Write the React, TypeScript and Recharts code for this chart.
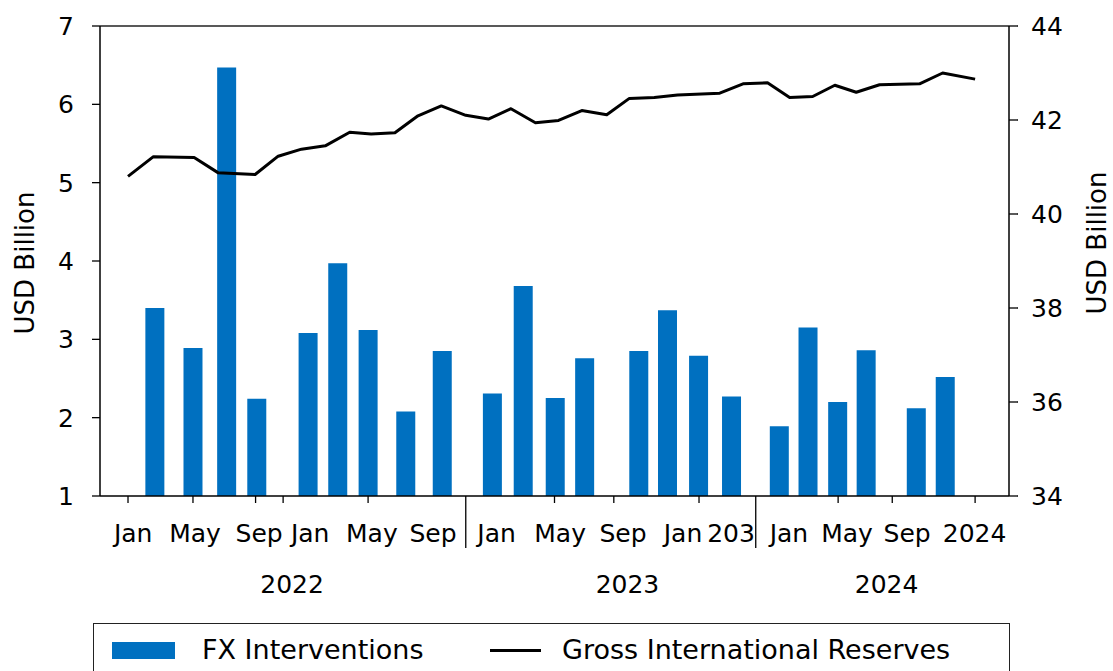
import { ComposedChart, Bar, Line, XAxis, YAxis, ReferenceLine, Label } from 'recharts';

// x positions are in months counted from Jan 2022
const barMonths = [1.13, 2.75, 4.18, 5.46, 7.64, 8.9, 10.19, 11.79, 13.34, 15.47, 16.78, 18.14, 19.39, 21.69, 22.91, 24.23, 25.63, 27.66, 28.88, 30.14, 31.35, 33.48, 34.71];
const fxInterventions = [3.4, 2.89, 6.47, 2.24, 3.08, 3.97, 3.12, 2.08, 2.85, 2.31, 3.68, 2.25, 2.76, 2.85, 3.37, 2.79, 2.27, 1.89, 3.15, 2.2, 2.86, 2.12, 2.52];

const lineMonths = [0, 1.08, 2.81, 3.82, 5.4, 6.38, 7.37, 8.38, 9.42, 10.33, 11.34, 12.32, 13.31, 14.35, 15.31, 16.27, 17.31, 18.29, 19.28, 20.34, 21.3, 22.36, 23.35, 25.14, 26.13, 27.17, 28.11, 29.09, 30.03, 30.94, 31.93, 33.63, 34.61, 35.99];
const grossReserves = [40.8, 41.22, 41.2, 40.88, 40.84, 41.23, 41.38, 41.45, 41.74, 41.7, 41.73, 42.09, 42.3, 42.1, 42.02, 42.24, 41.94, 41.99, 42.2, 42.11, 42.46, 42.48, 42.53, 42.57, 42.77, 42.79, 42.48, 42.5, 42.74, 42.59, 42.75, 42.77, 43.0, 42.87];

const tickMonths = [0, 2.76, 5.42, 6.59, 10.2, 18.12, 20.64, 24.26, 30.17, 32.47, 35.99];
const separatorMonths = [14.35, 26.67];
const labelMonths = [0.22, 2.85, 5.57, 7.74, 10.36, 12.96, 15.66, 18.36, 21.03, 23.58, 25.62, 28.08, 30.55, 33.1, 35.97];
const labelTexts = ['Jan', 'May', 'Sep', 'Jan', 'May', 'Sep', 'Jan', 'May', 'Sep', 'Jan', '203', 'Jan', 'May', 'Sep', '2024'];
const yearMonths = [6.97, 21.22, 32.23];
const yearTexts = ['2022', '2023', '2024'];

const leftTicks = [1, 2, 3, 4, 5, 6, 7];
const rightTicks = [34, 36, 38, 40, 42, 44];

const barData = barMonths.map((t, i) => ({ t, fx: fxInterventions[i] }));
const lineData = lineMonths.map((t, i) => ({ t, gir: grossReserves[i] }));

const xDomain = [-1.19, 37.43];
const font = 'DejaVu Sans';
const blue = '#0070C0';

const MarkTick = (props: any) => {
  const { x, y, payload } = props;
  const len = separatorMonths.includes(payload.value) ? 52 : 7;
  return <line x1={x} x2={x} y1={y} y2={y + len} stroke="#000" strokeWidth={1.3} />;
};

const MonthTick = (props: any) => {
  const { x, y, payload } = props;
  const i = labelMonths.indexOf(payload.value);
  return (
    <text x={x} y={y + 38} textAnchor="middle" fontSize={25} fill="#000" fontFamily={font}>
      {labelTexts[i]}
    </text>
  );
};

const YearTick = (props: any) => {
  const { x, y, payload } = props;
  const i = yearMonths.indexOf(payload.value);
  return (
    <text x={x} y={y + 39} textAnchor="middle" fontSize={25} fill="#000" fontFamily={font}>
      {yearTexts[i]}
    </text>
  );
};

const axisTitle = (cx: number, cy: number) => () => (
  <text
    x={cx}
    y={cy}
    transform={`rotate(-90 ${cx} ${cy})`}
    textAnchor="middle"
    dominantBaseline="central"
    fontSize={26}
    fill="#000"
    fontFamily={font}
  >
    USD Billion
  </text>
);

export default function App() {
  return (
    <div style={{ position: 'fixed', left: 0, top: 0, width: 1113, height: 671, overflow: 'hidden', background: '#fff', fontFamily: font }}>
      <ComposedChart width={1113} height={671} data={barData} margin={{ top: 26, right: 0, bottom: 72, left: 0 }}>
        {/* bottom axes stack in id order: a (bars, hidden), b (ticks), c (month labels), d (years) */}
        <XAxis xAxisId="a" dataKey="t" type="number" domain={xDomain} allowDataOverflow hide height={0} />
        <XAxis
          xAxisId="b"
          dataKey="t"
          type="number"
          domain={xDomain}
          allowDataOverflow
          ticks={[...tickMonths, ...separatorMonths]}
          interval={0}
          tickSize={0}
          tickMargin={0}
          tickLine={false}
          tick={MarkTick}
          axisLine={{ stroke: '#000', strokeWidth: 1.5 }}
          height={8}
        />
        <XAxis
          xAxisId="c"
          dataKey="t"
          type="number"
          domain={xDomain}
          allowDataOverflow
          ticks={labelMonths}
          interval={0}
          tickSize={0}
          tickMargin={0}
          tickLine={false}
          axisLine={false}
          tick={MonthTick}
          height={50}
        />
        <XAxis
          xAxisId="d"
          dataKey="t"
          type="number"
          domain={xDomain}
          allowDataOverflow
          ticks={yearMonths}
          interval={0}
          tickSize={0}
          tickMargin={0}
          tickLine={false}
          axisLine={false}
          tick={YearTick}
          height={45}
        />
        <YAxis
          yAxisId="l"
          domain={[1, 7]}
          ticks={leftTicks}
          interval={0}
          width={100}
          tickSize={8}
          tickMargin={18}
          tick={{ fontSize: 25, fill: '#000', fontFamily: font }}
          axisLine={{ stroke: '#000', strokeWidth: 1.5 }}
          tickLine={{ stroke: '#000', strokeWidth: 1.3 }}
        >
          <Label content={axisTitle(25, 263)} />
        </YAxis>
        <YAxis
          yAxisId="r"
          orientation="right"
          domain={[34, 44]}
          ticks={rightTicks}
          interval={0}
          width={104}
          tickSize={9}
          tickMargin={13}
          tick={{ fontSize: 25, fill: '#000', fontFamily: font }}
          axisLine={{ stroke: '#000', strokeWidth: 1.5 }}
          tickLine={{ stroke: '#000', strokeWidth: 1.3 }}
        >
          <Label content={axisTitle(1097, 243)} />
        </YAxis>
        <ReferenceLine yAxisId="l" xAxisId="b" y={7} stroke="#222" strokeWidth={1.5} />
        <Bar xAxisId="a" yAxisId="l" dataKey="fx" name="FX Interventions" fill={blue} barSize={19} isAnimationActive={false} />
        <Line
          xAxisId="b"
          yAxisId="r"
          data={lineData}
          dataKey="gir"
          name="Gross International Reserves"
          type="linear"
          stroke="#000"
          strokeWidth={3}
          strokeLinejoin="round"
          dot={false}
          activeDot={false}
          isAnimationActive={false}
        />
      </ComposedChart>
      <div style={{ position: 'absolute', left: 93, top: 623, width: 917, height: 60, border: '1.5px solid #222', boxSizing: 'border-box' }}>
        <div style={{ position: 'absolute', left: 18, top: 18, width: 63, height: 17, background: blue }} />
        <span style={{ position: 'absolute', left: 108, top: 10, fontSize: 27, lineHeight: '32px', whiteSpace: 'nowrap' }}>FX Interventions</span>
        <div style={{ position: 'absolute', left: 396, top: 25, width: 51, height: 3, background: '#000' }} />
        <span style={{ position: 'absolute', left: 468, top: 10, fontSize: 27, lineHeight: '32px', whiteSpace: 'nowrap' }}>Gross International Reserves</span>
      </div>
    </div>
  );
}
